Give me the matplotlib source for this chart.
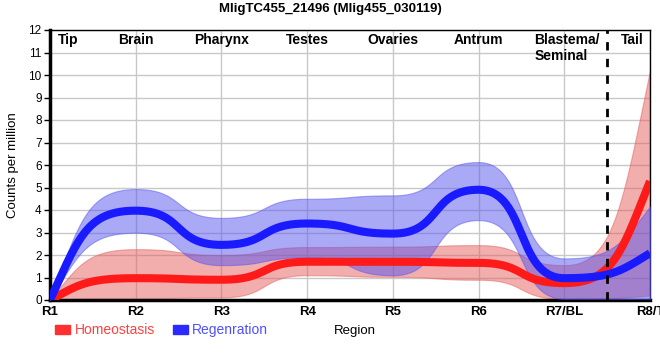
import numpy as np
import matplotlib
matplotlib.use("Agg")
import matplotlib.pyplot as plt
from matplotlib.patches import Patch

plt.rcParams['font.family'] = ['Liberation Sans', 'DejaVu Sans']

regions = ["R1", "R2", "R3", "R4", "R5", "R6", "R7/BL", "R8/T"]
tissues = ["Tip", "Brain", "Pharynx", "Testes", "Ovaries", "Antrum", "Blastema/\nSeminal", "Tail"]

homeo_mean = [0.0, 0.97, 0.9, 1.7, 1.7, 1.65, 0.75, 5.28]
homeo_low = [0.0, 0.08, 0.12, 1.1, 1.03, 0.9, 0.05, 0.2]
homeo_high = [0.0, 2.26, 2.0, 2.35, 2.37, 2.44, 1.55, 10.2]

regen_mean = [0.0, 3.97, 2.45, 3.4, 2.95, 4.9, 0.97, 2.08]
regen_low = [0.0, 2.99, 1.55, 1.9, 1.1, 3.55, 0.05, 0.05]
regen_high = [0.0, 4.93, 3.65, 4.5, 4.65, 6.13, 1.85, 4.15]


def smooth(y, n=60, c=0.57, k=0.7):
    # piecewise cubic Bezier: flat handles at inner points, steeper at the ends
    y = np.asarray(y, float)
    last = len(y) - 1
    xs, ys = [], []
    t = np.linspace(0, 1, n)
    for i in range(last):
        x0, x3, y0, y3 = i, i + 1, y[i], y[i + 1]
        if i == 0:
            x1, y1 = x0 + 1 / 3, y0 + k * (y3 - y0)
        else:
            x1, y1 = x0 + c, y0
        if i + 1 == last:
            x2, y2 = x3 - 1 / 3, y3 - k * (y3 - y0)
        else:
            x2, y2 = x3 - c, y3
        b0, b1, b2, b3 = (1 - t)**3, 3 * (1 - t)**2 * t, 3 * (1 - t) * t**2, t**3
        xs.append(b0 * x0 + b1 * x1 + b2 * x2 + b3 * x3)
        ys.append(b0 * y0 + b1 * y1 + b2 * y2 + b3 * y3)
    return np.concatenate(xs), np.concatenate(ys)


fig = plt.figure(figsize=(6.6, 3.6), dpi=100)
ax = fig.add_axes([50 / 660, 1 - 300 / 360, 600 / 660, 270 / 360])

xs, hl = smooth(homeo_low)
_, hh = smooth(homeo_high)
_, hm = smooth(homeo_mean)
_, rl = smooth(regen_low)
_, rh = smooth(regen_high)
_, rm = smooth(regen_mean)

ax.fill_between(xs, hl, hh, color='#e65c5c', alpha=0.5, lw=0.8, edgecolor='#e65c5c', zorder=2)
ax.fill_between(xs, rl, rh, color='#5555ee', alpha=0.5, lw=0.8, edgecolor='#5555ee', zorder=3)
ax.plot(xs, hm, color='#ff1a1a', lw=5.8, solid_capstyle='butt', zorder=4)
ax.plot(xs, rm, color='#1a1aff', lw=5.8, solid_capstyle='butt', zorder=5)

ax.axvline(6.5, color='black', ls=(0, (3, 3)), lw=2, zorder=6)

ax.set_xlim(0, 7)
ax.set_ylim(0, 12)
ax.set_xticks(range(len(regions)))
ax.set_xticklabels(regions, fontsize=9.5, fontweight='bold')
ax.set_yticks(range(0, 13))
ax.tick_params(axis='y', labelsize=8.5, length=4, width=1, pad=2)
ax.tick_params(axis='x', length=0, pad=4)
ax.grid(True, color='#c8c8c8', lw=1)
ax.set_axisbelow(True)

for s in ['top', 'right']:
    ax.spines[s].set_linewidth(1)
for s in ['left', 'bottom']:
    ax.spines[s].set_linewidth(2.5)

for i, t in enumerate(tissues):
    if i == 0:
        ax.text(0.09, 11.85, t, ha='left', va='top', fontsize=10, fontweight='bold')
    elif i == 6:
        ax.text(5.65, 11.85, t, ha='left', va='top', fontsize=10, fontweight='bold', linespacing=1.15)
    elif i == 7:
        ax.text(6.93, 11.85, t, ha='right', va='top', fontsize=10, fontweight='bold')
    else:
        ax.text(i, 11.85, t, ha='center', va='top', fontsize=10, fontweight='bold')

ax.set_ylabel("Counts per million", fontsize=9.5, labelpad=7)
fig.text(355 / 660, 1 - 331 / 360, "Region", fontsize=9.5, ha='center', va='center')
fig.text(330 / 660, 1 - 9 / 360, "MligTC455_21496 (Mlig455_030119)", fontsize=9.5,
         fontweight='bold', ha='center', va='center')

handles = [Patch(color='#ff3030'), Patch(color='#2a2aff')]
fig.legend(handles, ["Homeostasis", "Regenration"], loc='center left',
           bbox_to_anchor=(48 / 660, 1 - 330 / 360), ncol=2, frameon=False,
           fontsize=10, labelcolor=['#ff4040', '#5050ff'], handlelength=1.1,
           handleheight=0.6, handletextpad=0.3, columnspacing=1.3, borderpad=0)

fig.savefig("out.png", dpi=100)
